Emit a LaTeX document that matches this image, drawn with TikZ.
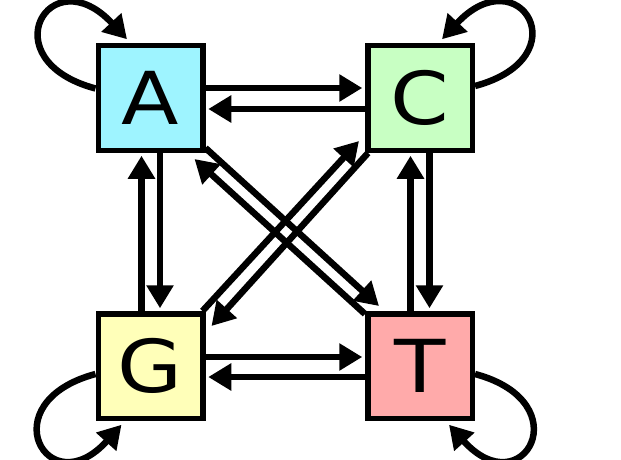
\documentclass[tikz,border=0pt]{standalone}
\usepackage{fontspec}
\newfontfamily\letterfont[FakeStretch=1.15]{DejaVu Sans}
\usetikzlibrary{arrows.meta}
\definecolor{colA}{RGB}{158,244,255}
\definecolor{colC}{RGB}{200,255,195}
\definecolor{colG}{RGB}{255,255,185}
\definecolor{colT}{RGB}{255,170,170}
\begin{document}
\begin{tikzpicture}[x=1pt,y=1pt,
  base/.style={draw=black, line width=5.5pt, minimum size=104.5pt, inner sep=0pt,
    font=\letterfont\fontsize{73}{73}\selectfont},
  conn/.style={line width=6.5pt, -{Triangle[length=23pt,width=26pt]}},
  straight/.style={conn, shorten >=2.75pt}]
\useasboundingbox (0,0) rectangle (621,459);
\node[base, fill=colA] (A) at (150.5,361) {A};
\node[base, fill=colC] (C) at (420,361) {C};
\node[base, fill=colG] (G) at (150.5,93) {G};
\node[base, fill=colT] (T) at (420,93) {T};
% self loops
\draw[conn] ([yshift=9.5pt]A.west) to[out=165,in=133,out distance=110pt,in distance=113pt] ([shift={(-23.5,3.75)}]A.north);
\draw[conn] ([yshift=12pt]C.east) to[out=15,in=47,out distance=110pt,in distance=113pt] ([shift={(22,3.75)}]C.north);
\draw[conn] ([yshift=-8pt]G.west) to[out=195,in=228,out distance=110pt,in distance=110pt] ([shift={(-29,-3.75)}]G.south);
\draw[conn] ([yshift=-8pt]T.east) to[out=-15,in=-48,out distance=110pt,in distance=110pt] ([shift={(29,-3.75)}]T.south);
% horizontal
\draw[straight] ([yshift=10pt]A.east) -- ([yshift=10pt]C.west);
\draw[straight] ([yshift=-11pt]C.west) -- ([yshift=-11pt]A.east);
\draw[straight] ([yshift=9pt]G.east) -- ([yshift=9pt]T.west);
\draw[straight] ([yshift=-11pt]T.west) -- ([yshift=-11pt]G.east);
% vertical
\draw[straight] ([xshift=-9pt]G.north) -- ([xshift=-9pt]A.south);
\draw[straight] ([xshift=9.5pt]A.south) -- ([xshift=9.5pt]G.north);
\draw[straight] ([xshift=-9.5pt]T.north) -- ([xshift=-9.5pt]C.south);
\draw[straight] ([xshift=9.5pt]C.south) -- ([xshift=9.5pt]T.north);
% diagonals
\draw[conn] ([yshift=5pt]A.south east) -- ([shift={(14,5)}]T.north west);
\draw[conn] ([yshift=-3pt]T.north west) -- ([shift={(-11,-6)}]A.south east);
\draw[conn] ([xshift=-3pt]G.north east) -- ([shift={(-6,12)}]C.south west);
\draw[conn] ([xshift=3pt]C.south west) -- ([shift={(6,-15)}]G.north east);
\end{tikzpicture}
\end{document}
